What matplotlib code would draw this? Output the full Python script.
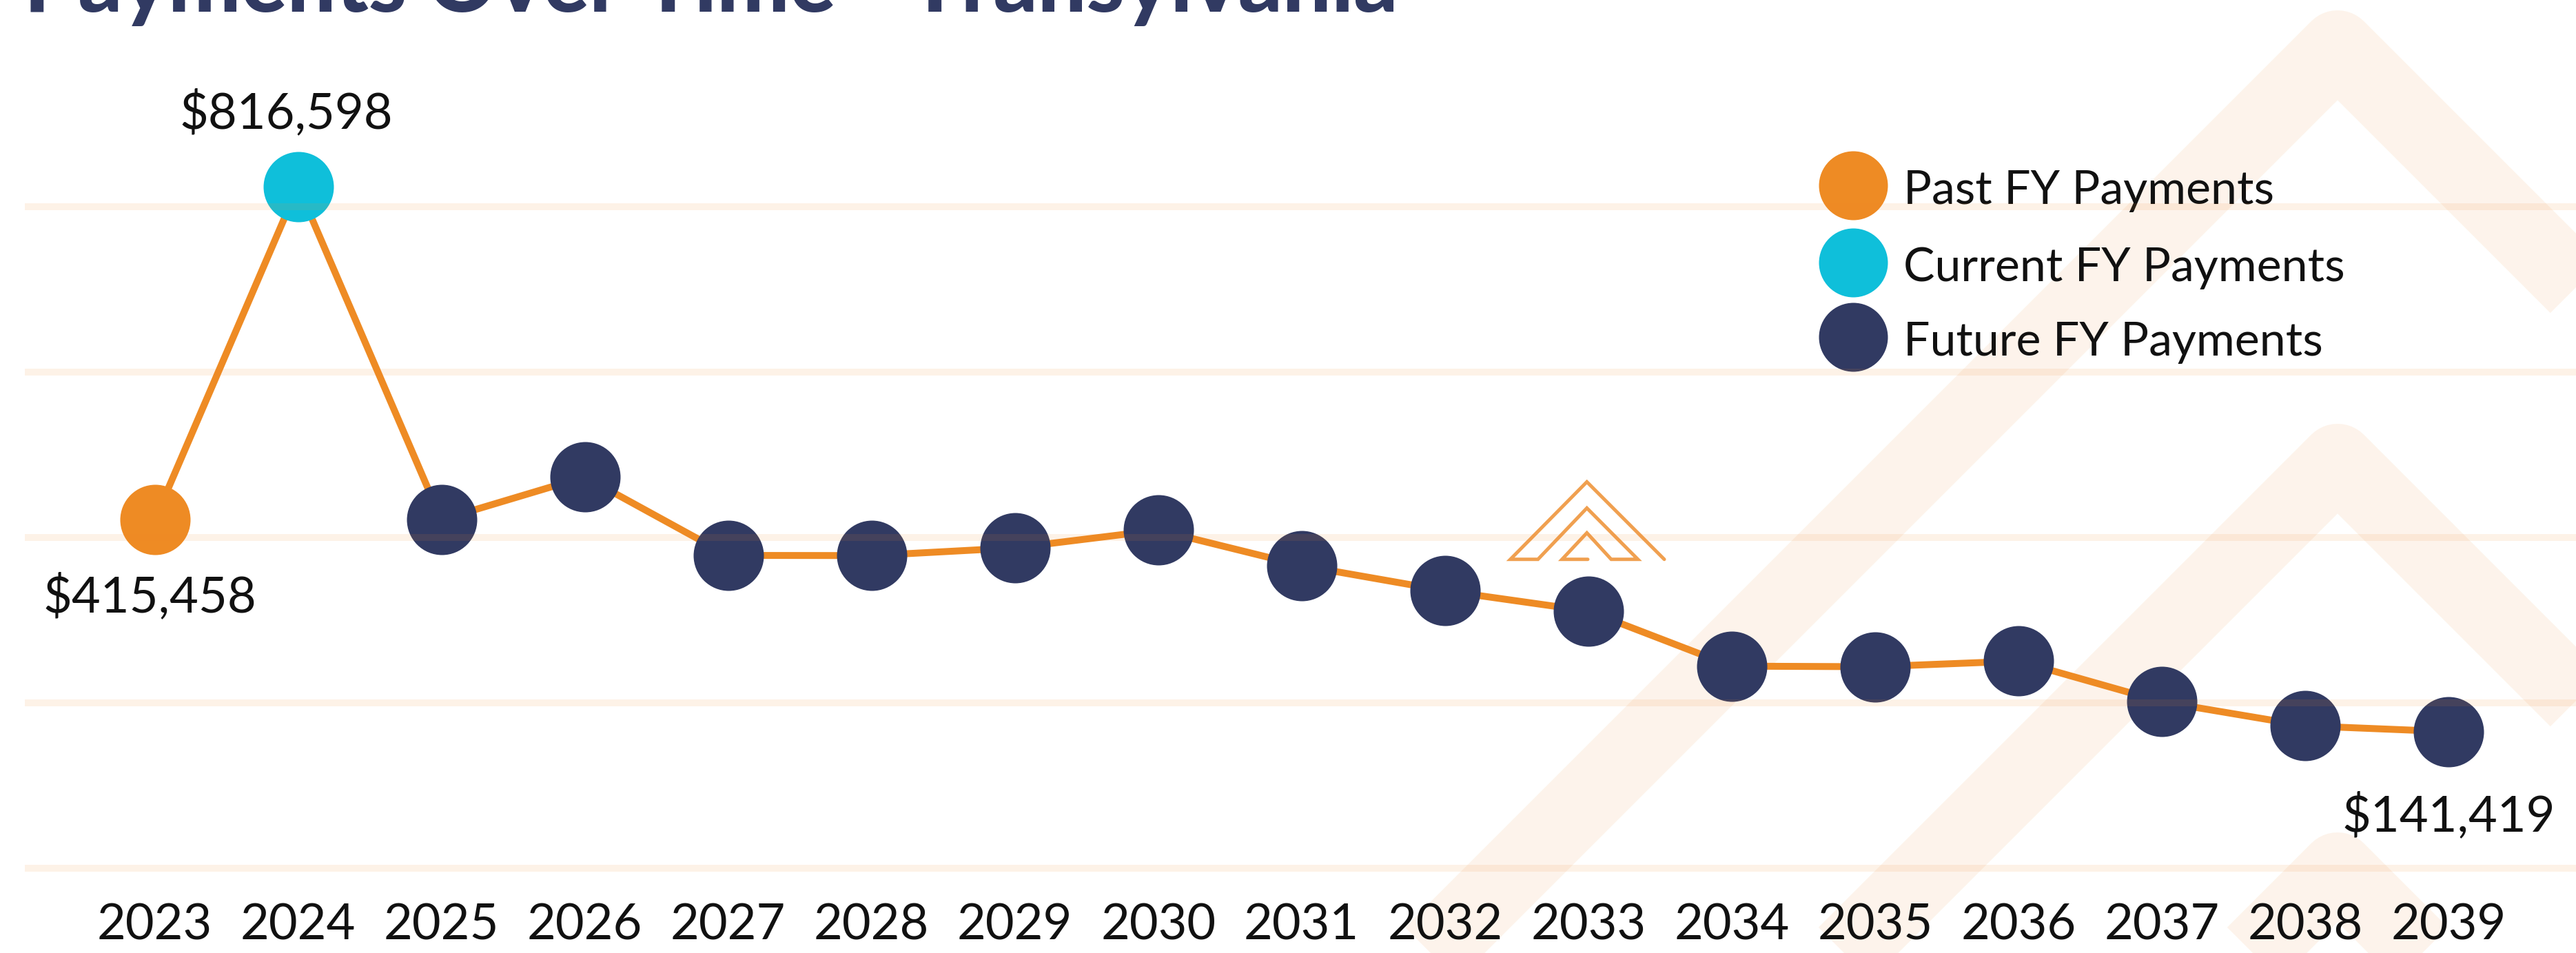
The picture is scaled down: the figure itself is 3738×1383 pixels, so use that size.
import matplotlib
matplotlib.use("Agg")
import matplotlib.pyplot as plt
import matplotlib.transforms as mtransforms

# ---------------- data ----------------
years = [2023, 2024, 2025, 2026, 2027, 2028, 2029, 2030, 2031,
         2032, 2033, 2034, 2035, 2036, 2037, 2038, 2039]
payments = [415458, 816598, 415600, 467200, 372700, 372500, 381800, 403100,
            360500, 330200, 305800, 239500, 238800, 245600, 196700, 167700, 160700]
period = ["Past", "Current"] + ["Future"] * 15
legend_labels = ["Past FY Payments", "Current FY Payments", "Future FY Payments"]
value_label_years = [2024, 2023, 2039]
value_label_texts = ["$816,598", "$415,458", "$141,419"]
guide_values = [-3600, 195300, 394300, 593200, 792200]
title = "Payments Over Time - Transylvania"

# ---------------- style ----------------
W, H, DPI = 3738, 1383, 100
NAVY = "#313A62"
ORANGE = "#EE8B24"
CYAN = "#0FBFDA"
BAND = "#F08A2C"
colors = {"Past": ORANGE, "Current": CYAN, "Future": NAVY}
FONT = ["Lato", "DejaVu Sans"]
plt.rcParams["font.family"] = FONT

px = 72.0 / DPI  # points per pixel

fig = plt.figure(figsize=(W / DPI, H / DPI), dpi=DPI)
fig.patch.set_facecolor("white")

# background / decoration axes in pixel coordinates
bg = fig.add_axes([0, 0, 1, 1], zorder=0)
bg.set_xlim(0, W)
bg.set_ylim(H, 0)
bg.axis("off")

# big faint chevrons
for yc in [69, 669, 1262]:
    xa = 3392
    L = 2200
    bg.plot([xa - L, xa, xa + L], [yc + L, yc, yc + L], color=BAND, alpha=0.095,
            lw=108 * px, solid_joinstyle="round", solid_capstyle="butt", zorder=0)

# small logo
logo_x = [2415, 2302.7, 2191.7, 2231.7, 2302.7, 2376.7, 2338, 2302.7, 2266.7, 2304]
logo_y = [811.7, 699.3, 811.7, 811.7, 737.3, 811.7, 811.7, 773.3, 811.7, 811.7]
bg.plot(logo_x, logo_y, color="#F0A050", lw=5 * px, solid_joinstyle="miter",
        solid_capstyle="round", zorder=1)

# legend (drawn manually)
leg_y = [269, 381, 489]
for lab, cat, yy in zip(legend_labels, ["Past", "Current", "Future"], leg_y):
    bg.plot([2689], [yy], marker="o", ms=100 * px, color=colors[cat], mec="none", zorder=3)
    bg.text(2762, yy + 27, lab, fontsize=49, color="#111111", ha="left",
            va="baseline", zorder=3)

# main data axes
ax = fig.add_axes([0, 0, 1, 1], zorder=1)
ax.patch.set_alpha(0)
ax.axis("off")
x0, dx = 224.5, 208.03
ax.set_xlim(years[0] - x0 / dx, years[0] + (W - x0) / dx)
k = 0.0012063
zero_px = 1255.6
ax.set_ylim((zero_px - H) / k, zero_px / k)

ax.plot(years, payments, color=ORANGE, lw=10 * px, zorder=2, solid_capstyle="round")
for cat in ["Past", "Current", "Future"]:
    xs = [x for x, p in zip(years, period) if p == cat]
    ys = [v for v, p in zip(payments, period) if p == cat]
    ax.plot(xs, ys, ls="none", marker="o", ms=102 * px, color=colors[cat],
            mec="none", zorder=3)

# faint horizontal guide lines drawn above the markers
for g in guide_values:
    ax.axhline(g, xmin=41 / W, xmax=1, color=BAND, alpha=0.11, lw=10 * px, zorder=4)

# value labels
offsets = {2024: (-17, 84.5), 2023: (-7.5, -133.6), 2039: (0, -145)}
for yr, txt in zip(value_label_years, value_label_texts):
    v = payments[years.index(yr)]
    ax.annotate(txt, (yr, v), xytext=offsets[yr], textcoords="offset pixels",
                ha="center", va="baseline", fontsize=52, color="#111111", zorder=5)

# year labels
trans = mtransforms.blended_transform_factory(ax.transData, ax.transAxes)
for yr in years:
    ax.text(yr, 1 - 1363 / H, str(yr), transform=trans, ha="center",
            va="baseline", fontsize=52, color="#111111", zorder=5)

# title (cut off at the top, as in the reference)
fig.text(35 / W, 1 - 17 / H, title, ha="left", va="baseline", fontsize=90,
         fontweight="black", color=NAVY, family=FONT)

fig.savefig("out.png", dpi=DPI, facecolor="white")
